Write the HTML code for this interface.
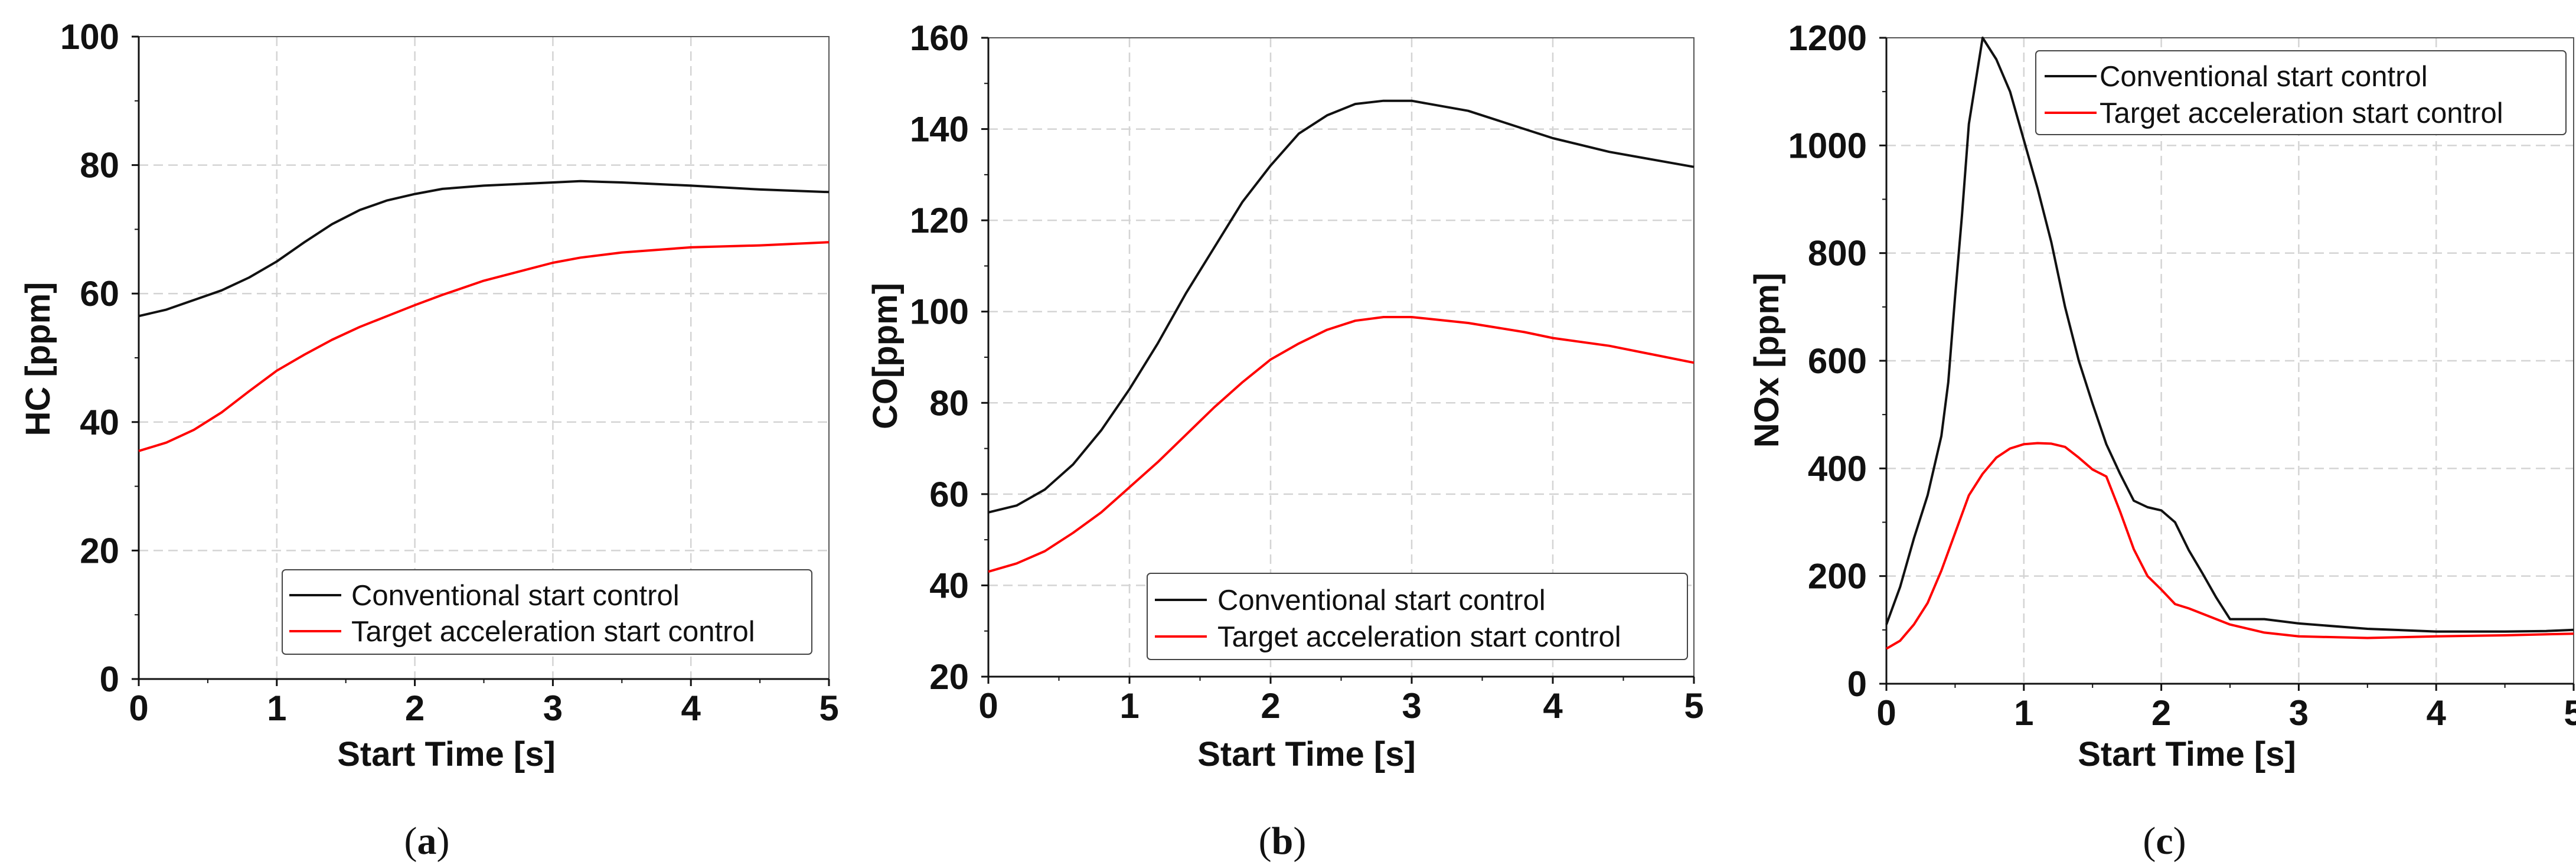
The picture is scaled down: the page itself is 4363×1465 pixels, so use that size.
<!DOCTYPE html>
<html><head><meta charset="utf-8"><style>
html,body{margin:0;padding:0;background:#fff;}
svg{display:block;font-family:"Liberation Sans",Arial,sans-serif;}
</style></head><body>
<svg id="fig" width="4363" height="1465" viewBox="0 0 4363 1465"></svg>
<script>
const xTicks=[0,1,2,3,4,5];
const legendLabels=["Conventional start control","Target acceleration start control"];
const hcTicks=[0,20,40,60,80,100];
const hcX=[0,0.2,0.4,0.6,0.8,1.0,1.2,1.4,1.6,1.8,2.0,2.2,2.5,3.0,3.2,3.5,4.0,4.5,5];
const hcConv=[56.5,57.5,59,60.5,62.5,65,68,70.8,73,74.5,75.5,76.3,76.8,77.3,77.5,77.3,76.8,76.2,75.8];
const hcTarget=[35.5,36.8,38.8,41.5,44.8,48,50.5,52.8,54.8,56.5,58.2,59.8,62,64.8,65.6,66.4,67.2,67.5,68];
const coTicks=[20,40,60,80,100,120,140,160];
const coX=[0,0.2,0.4,0.6,0.8,1.0,1.2,1.4,1.6,1.8,2.0,2.2,2.4,2.6,2.8,3.0,3.4,3.8,4.0,4.4,5];
const coConv=[56,57.5,61,66.5,74,83,93,104,114,124,132,139,143,145.5,146.2,146.2,144,140,138,135,131.7];
const coTarget=[43,44.8,47.5,51.5,56,61.5,67,73,79,84.5,89.5,93,96,98,98.8,98.8,97.5,95.5,94.2,92.5,88.8];
const noxTicks=[0,200,400,600,800,1000,1200];
const noxXc=[0,0.1,0.2,0.3,0.4,0.45,0.5,0.55,0.6,0.7,0.8,0.9,1.0,1.1,1.2,1.3,1.4,1.5,1.6,1.7,1.8,1.9,2.0,2.1,2.2,2.3,2.4,2.5,2.75,3,3.5,4,4.5,4.8,5];
const noxConv=[110,180,270,350,460,560,720,870,1040,1200,1160,1100,1010,920,820,700,600,520,445,390,340,328,322,300,248,205,160,120,120,112,102,97,97,98,100];
const noxXt=[0,0.1,0.2,0.3,0.4,0.5,0.6,0.7,0.8,0.9,1.0,1.1,1.2,1.3,1.4,1.5,1.6,1.7,1.8,1.9,2.0,2.1,2.2,2.5,2.75,3,3.5,4,4.5,5];
const noxTarget=[65,80,110,150,210,280,350,390,420,437,445,447,446,440,420,398,385,320,250,200,175,148,140,110,95,88,85,88,90,93];

const NS="http://www.w3.org/2000/svg";
const svg=document.getElementById('fig');
function el(tag,attrs,parent,text){const e=document.createElementNS(NS,tag);for(const k in attrs)e.setAttribute(k,attrs[k]);if(text!==undefined)e.textContent=text;(parent||svg).appendChild(e);return e;}

function panel(cfg){
  const g=el('g',{});
  
  
  const {x0,x1,y0,y1,ymin,ymax}=cfg;
  const sx=v=>x0+(v-0)/5*(x1-x0);
  const sy=v=>y0-(v-ymin)/(ymax-ymin)*(y0-y1);
  // grid
  xTicks.forEach(t=>{if(t>0&&t<5){const l=el('line',{x1:sx(t),x2:sx(t),y1:y1,y2:y0,stroke:'#d4d4d4','stroke-width':2.5,'stroke-dasharray':'16,9'},g);}});
  cfg.yTicks.forEach(t=>{if(t>ymin&&t<ymax){const l=el('line',{x1:x0,x2:x1,y1:sy(t),y2:sy(t),stroke:'#d4d4d4','stroke-width':2.5,'stroke-dasharray':'16,9'},g);}});
  // frame
  const fr=el('rect',{x:x0,y:y1,width:x1-x0,height:y0-y1,fill:'none',stroke:'#555','stroke-width':2},g);
  
  el('line',{x1:x0,x2:x0,y1:y1,y2:y0,stroke:'#111','stroke-width':3},g);
  el('line',{x1:x0,x2:x1,y1:y0,y2:y0,stroke:'#111','stroke-width':3},g);
  // x ticks
  xTicks.forEach(t=>{
    el('line',{x1:sx(t),x2:sx(t),y1:y0,y2:y0+12,stroke:'#111','stroke-width':3},g);
    if(t<5) el('line',{x1:sx(t+0.5),x2:sx(t+0.5),y1:y0,y2:y0+7,stroke:'#111','stroke-width':2},g);
    const tx=el('text',{x:sx(t),y:y0+70,'font-size':60,'font-weight':'bold','text-anchor':'middle',fill:'#111'},g,String(t));
    
  });
  cfg.yTicks.forEach((t,i)=>{
    el('line',{x1:x0-12,x2:x0,y1:sy(t),y2:sy(t),stroke:'#111','stroke-width':3},g);
    if(i<cfg.yTicks.length-1){const m=(t+cfg.yTicks[i+1])/2;el('line',{x1:x0-7,x2:x0,y1:sy(m),y2:sy(m),stroke:'#111','stroke-width':2},g);}
    const tx=el('text',{x:x0-33,y:sy(t)+21,'font-size':60,'font-weight':'bold','text-anchor':'end',fill:'#111'},g,String(t));
    
  });
  const xt=el('text',{x:cfg.xtx,y:1297,'font-size':58,'font-weight':'bold','text-anchor':'middle',fill:'#111'},g,'Start Time [s]');
  
  const yt=el('text',{x:0,y:0,'font-size':58,'font-weight':'bold','text-anchor':'middle',fill:'#111',transform:`translate(${cfg.ytx},${cfg.yty}) rotate(-90)`},g,cfg.ylabel);
  
  // series
  cfg.series.forEach(s=>{
    const d=s.x.map((v,i)=>(i?'L':'M')+sx(v).toFixed(1)+','+sy(s.y[i]).toFixed(1)).join(' ');
    const p=el('path',{d:d,fill:'none',stroke:s.color,'stroke-width':4,'stroke-linejoin':'round'},g);
    
  });
  // legend
  const L=cfg.legend;
  const lg=el('g',{},g);
  
  el('rect',{x:L.x,y:L.y,width:L.w,height:L.h,rx:6,fill:'#fff',stroke:'#444','stroke-width':2},lg);
  ['#111','#ff0000'].forEach((c,i)=>{
    const yy=L.ey[i];
    el('line',{x1:L.lx,x2:L.lx+88,y1:yy,y2:yy,stroke:c,'stroke-width':4},lg);
    const t=el('text',{x:L.tx,y:yy+17,'font-size':49,fill:'#111'},lg,legendLabels[i]);
    
  });
  const cap=el('text',{x:cfg.capx,y:1446,'font-size':66,'text-anchor':'middle',fill:'#111','font-family':'"Liberation Serif",serif'},g);
  
  el('tspan',{},cap,'(');el('tspan',{'font-weight':'bold'},cap,cfg.cap);el('tspan',{},cap,')');
}

panel({name:'hc-panel',x0:235,x1:1404,y0:1150,y1:62,ymin:0,ymax:100,yTicks:hcTicks,ylabel:'HC [ppm]',ytx:84,yty:608,xtx:756,capx:723,cap:'a',
  series:[{name:'hc-conventional-line',x:hcX,y:hcConv,color:'#111'},{name:'hc-target-line',x:hcX,y:hcTarget,color:'#ff0000'}],
  legend:{x:478,y:965,w:897,h:143,lx:490,tx:595,ey:[1008,1069]}});
panel({name:'co-panel',x0:1674,x1:2869,y0:1146,y1:64,ymin:20,ymax:160,yTicks:coTicks,ylabel:'CO[ppm]',ytx:1519,yty:603,xtx:2213,capx:2172,cap:'b',
  series:[{name:'co-conventional-line',x:coX,y:coConv,color:'#111'},{name:'co-target-line',x:coX,y:coTarget,color:'#ff0000'}],
  legend:{x:1943,y:971,w:915,h:146,lx:1956,tx:2062,ey:[1016,1078]}});
panel({name:'nox-panel',x0:3195,x1:4359,y0:1158,y1:64,ymin:0,ymax:1200,yTicks:noxTicks,ylabel:'NOx [ppm]',ytx:3012,yty:610,xtx:3704,capx:3666,cap:'c',
  series:[{name:'nox-conventional-line',x:noxXc,y:noxConv,color:'#111'},{name:'nox-target-line',x:noxXt,y:noxTarget,color:'#ff0000'}],
  legend:{x:3448,y:86,w:898,h:142,lx:3463,tx:3556,ey:[129,191]}});
</script>
</body></html>
